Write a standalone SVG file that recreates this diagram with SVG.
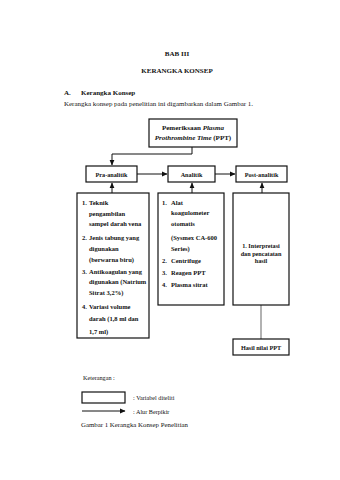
<svg xmlns="http://www.w3.org/2000/svg" width="340" height="480" viewBox="0 0 340 480">
<defs>
<marker id="ah" markerWidth="6" markerHeight="6" refX="5" refY="3" orient="auto" markerUnits="userSpaceOnUse">
<path d="M0,0.6 L5.5,3 L0,5.4 Z" fill="#111"/>
</marker>
<style>
text{font-family:"Liberation Serif","Times New Roman",serif;fill:#111}
.b{font-weight:bold}
.i{font-style:italic}
.t7{font-size:7px}
.t65{font-size:6.5px}
.t6{font-size:6.2px}
.box{fill:#fff;stroke:#111;stroke-width:1.2}
.ln{fill:none;stroke:#111;stroke-width:1}
.grey{fill:none;stroke:#999;stroke-width:1.5}
.c{text-anchor:middle}
</style>
</defs>
<rect width="340" height="480" fill="#fff"/>

<g id="header">
<text class="b t7 c" x="177" y="56">BAB III</text>
<text class="b t7 c" x="177" y="73">KERANGKA KONSEP</text>
<text class="b t7" x="64" y="94.5">A.</text>
<text class="b t7" x="81" y="94.5">Kerangka Konsep</text>
<text class="t7" x="64" y="106" textLength="189" lengthAdjust="spacingAndGlyphs">Kerangka konsep pada penelitian ini digambarkan dalam Gambar 1.</text>
</g>

<g id="connectors">
<polyline class="ln" points="192,147 192,154 112,154 112,165" marker-end="url(#ah)"/>
<line class="ln" x1="137" y1="174" x2="167" y2="174" marker-end="url(#ah)"/>
<line class="ln" x1="215" y1="174" x2="235" y2="174" marker-end="url(#ah)"/>
<line class="ln" x1="112" y1="193" x2="112" y2="183" marker-end="url(#ah)"/>
<line class="ln" x1="192" y1="193" x2="192" y2="183" marker-end="url(#ah)"/>
<line class="ln" x1="262" y1="193" x2="262" y2="183" marker-end="url(#ah)"/>
<line class="grey" x1="261" y1="305" x2="261" y2="339"/>
</g>

<g id="node-pemeriksaan">
<rect class="box" x="149" y="119" width="88" height="28"/>
<text class="b t7 c" x="193" y="130">Pemeriksaan <tspan class="i">Plasma</tspan></text>
<text class="b t7 c" x="193" y="139.5"><tspan class="i">Prothrombine Time</tspan> (PPT)</text>
</g>

<g id="node-pra">
<rect class="box" x="86" y="166" width="51" height="16"/>
<text class="b t6 c" x="111.5" y="176.5">Pra-analitik</text>
</g>

<g id="node-analitik">
<rect class="box" x="168" y="166" width="47" height="16"/>
<text class="b t6 c" x="191.5" y="176.5">Analitik</text>
</g>

<g id="node-post">
<rect class="box" x="236" y="166" width="51" height="16"/>
<text class="b t6 c" x="261.5" y="176.5">Post-analitik</text>
</g>

<g id="node-pra-list">
<rect class="box" x="77" y="193" width="72" height="145"/>
<text class="b t65" x="82" y="205">1.</text><text class="b t65" x="89" y="205">Teknik</text>
<text class="b t65" x="89" y="215.5">pengambilan</text>
<text class="b t65" x="89" y="226">sampel darah vena</text>
<text class="b t65" x="82" y="240">2.</text><text class="b t65" x="89" y="240">Jenis tabung yang</text>
<text class="b t65" x="89" y="251">digunakan</text>
<text class="b t65" x="89" y="262">(berwarna biru)</text>
<text class="b t65" x="82" y="273.5">3.</text><text class="b t65" x="89" y="273.5">Antikoagulan yang</text>
<text class="b t65" x="89" y="284">digunakan (Natrium</text>
<text class="b t65" x="89" y="294.5">Sitrat 3,2%)</text>
<text class="b t65" x="82" y="308.5">4.</text><text class="b t65" x="89" y="308.5">Variasi volume</text>
<text class="b t65" x="89" y="321">darah (1,8 ml dan</text>
<text class="b t65" x="89" y="333.5">1,7 ml)</text>
</g>

<g id="node-analitik-list">
<rect class="box" x="158" y="193" width="66" height="112"/>
<text class="b t65" x="162" y="204.5">1.</text><text class="b t65" x="171" y="204.5">Alat</text>
<text class="b t65" x="171" y="215">koagulometer</text>
<text class="b t65" x="171" y="225.5">otomatis</text>
<text class="b t65" x="171" y="240">(Sysmex CA-600</text>
<text class="b t65" x="171" y="251">Series)</text>
<text class="b t65" x="162" y="262.5">2.</text><text class="b t65" x="171" y="262.5">Centrifuge</text>
<text class="b t65" x="162" y="274.5">3.</text><text class="b t65" x="171" y="274.5">Reagen PPT</text>
<text class="b t65" x="162" y="286.5">4.</text><text class="b t65" x="171" y="286.5">Plasma sitrat</text>
</g>

<g id="node-post-list">
<rect class="box" x="233" y="193" width="56" height="112"/>
<text class="b t6 c" x="261" y="248">1. Interpretasi</text>
<text class="b t6 c" x="261" y="255.5">dan pencatatan</text>
<text class="b t6 c" x="261" y="263">hasil</text>
</g>

<g id="node-hasil">
<rect class="box" x="233" y="339" width="56" height="16"/>
<text class="b t6 c" x="261" y="349.5">Hasil nilai PPT</text>
</g>

<g id="legend">
<text class="t6" x="83" y="379.5">Keterangan :</text>
<rect class="box" x="82" y="392" width="43" height="11"/>
<text class="t6" x="133" y="400">: Variabel diteliti</text>
<line class="ln" x1="82" y1="411" x2="125" y2="411" marker-end="url(#ah)"/>
<text class="t6" x="133" y="414">: Alur Berpikir</text>
<text class="t6" x="81" y="427" textLength="107" lengthAdjust="spacingAndGlyphs">Gambar 1 Kerangka Konsep Penelitian</text>
</g>
</svg>
